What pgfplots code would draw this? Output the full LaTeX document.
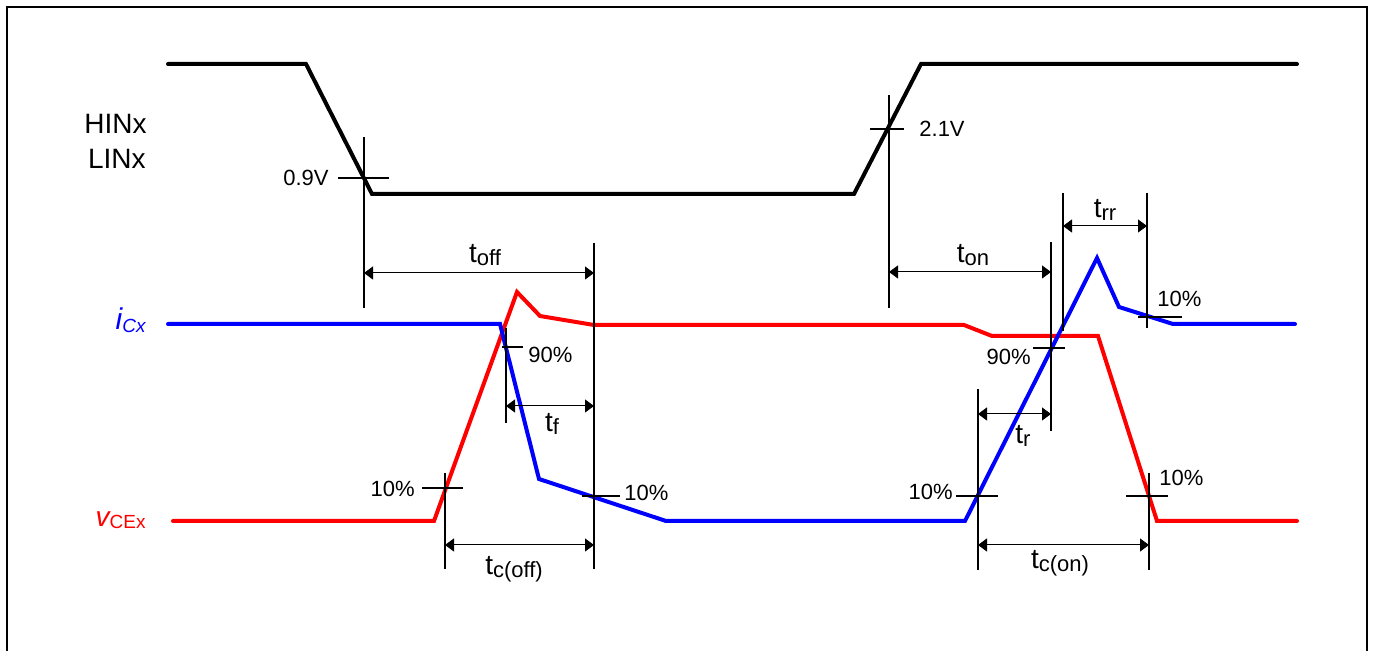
\documentclass[border=0pt]{standalone}
\usepackage{pgfplots}
\pgfplotsset{compat=1.18}
\usepackage{fontspec}
\setmainfont{Liberation Sans}
\usetikzlibrary{arrows.meta}
\newcommand{\ts}[1]{{\fontsize{14}{16}\selectfont t}{\fontsize{11}{13}\selectfont\raisebox{-1.5pt}{#1}}}
\tikzset{
 sig/.style={line width=2pt, line cap=round, line join=miter},
 mk/.style={black, line width=1pt},
 dim/.style={black, line width=0.5pt, {Triangle[length=4.5pt,width=6.5pt]}-{Triangle[length=4.5pt,width=6.5pt]}},
 lab/.style={inner sep=0pt, font=\fontsize{11}{13}\selectfont},
 tl/.style={inner sep=0pt, anchor=base},
}
\begin{document}
\begin{tikzpicture}
\begin{axis}[name=ax, scale only axis, width=686.5pt, height=325.5pt,
  xmin=0, xmax=1373, ymin=0, ymax=651, y dir=reverse, hide axis, clip=true]
% border
\addplot[black, line width=1pt] coordinates {(7,700) (7,7) (1367,7) (1367,700)};
% signals
\addplot[sig, black] coordinates {(168,64) (306,64) (372,194) (854,194) (921,64) (1297,64)};
\addplot[sig, red] coordinates {(173,521) (434,521) (517,292) (540,316) (594,325) (964,325) (992,336) (1098,336) (1157,521) (1297,521)};
\addplot[sig, blue] coordinates {(168,324) (500,324) (539,479) (666,521) (965,521) (1097,258) (1119,307) (1173,324) (1295,324)};
% markers
\addplot[mk] coordinates {(364,137) (364,308)};
\addplot[mk] coordinates {(338,178) (389,178)};
\addplot[mk] coordinates {(594,243) (594,569)};
\addplot[mk] coordinates {(506,328) (506,423)};
\addplot[mk] coordinates {(502,347) (523,347)};
\addplot[mk] coordinates {(582,496) (620,496)};
\addplot[mk] coordinates {(445,473) (445,569)};
\addplot[mk] coordinates {(422,488) (463,488)};
\addplot[mk] coordinates {(889,95) (889,308)};
\addplot[mk] coordinates {(870,129) (904,129)};
\addplot[mk] coordinates {(1051,242) (1051,431)};
\addplot[mk] coordinates {(1033,348) (1065,348)};
\addplot[mk] coordinates {(1063,193) (1063,331)};
\addplot[mk] coordinates {(1147,193) (1147,328)};
\addplot[mk] coordinates {(1138,317) (1182,317)};
\addplot[mk] coordinates {(978,389) (978,570)};
\addplot[mk] coordinates {(956,496) (998,496)};
\addplot[mk] coordinates {(1149,473) (1149,570)};
\addplot[mk] coordinates {(1126,496) (1168,496)};
% dimension arrows
\addplot[dim] coordinates {(364,273) (594,273)};
\addplot[dim] coordinates {(506,406) (594,406)};
\addplot[dim] coordinates {(445,545) (594,545)};
\addplot[dim] coordinates {(889,272) (1051,272)};
\addplot[dim] coordinates {(1063,226) (1147,226)};
\addplot[dim] coordinates {(978,414) (1051,414)};
\addplot[dim] coordinates {(978,545) (1149,545)};
% signal names
\node[anchor=east, inner sep=0pt, font=\fontsize{14}{16}\selectfont] at (axis cs:147,124) {HINx};
\node[anchor=east, inner sep=0pt, font=\fontsize{14}{16}\selectfont] at (axis cs:146,159) {LINx};
\node[anchor=base east, inner sep=0pt, text=blue] at (axis cs:146,330) {\fontsize{15}{17}\selectfont\itshape i\raisebox{-1.5pt}{\fontsize{9.5}{11}\selectfont Cx}};
\node[anchor=base east, inner sep=0pt, text=red] at (axis cs:146,527) {\fontsize{14}{16}\selectfont\itshape v\raisebox{-1pt}{\upshape\fontsize{9.5}{11}\selectfont CEx}};
% level labels
\node[lab, anchor=east] at (axis cs:329,178) {0.9V};
\node[lab, anchor=west] at (axis cs:919,129) {2.1V};
\node[lab, anchor=west] at (axis cs:528,355) {90\%};
\node[lab, anchor=west] at (axis cs:624,493) {10\%};
\node[lab, anchor=east] at (axis cs:415,489) {10\%};
\node[lab, anchor=east] at (axis cs:1031,357) {90\%};
\node[lab, anchor=west] at (axis cs:1157,299) {10\%};
\node[lab, anchor=east] at (axis cs:953,492) {10\%};
\node[lab, anchor=west] at (axis cs:1159,478) {10\%};
% time labels
\node[tl] at (axis cs:485,263) {\ts{off}};
\node[tl] at (axis cs:552,432) {\ts{f}};
\node[tl] at (axis cs:514,575) {\ts{c(off)}};
\node[tl] at (axis cs:973,263) {\ts{on}};
\node[tl] at (axis cs:1105,218) {\ts{rr}};
\node[tl] at (axis cs:1023,444) {\ts{r}};
\node[tl] at (axis cs:1060,569) {\ts{c(on)}};
\end{axis}
\pgfresetboundingbox
\path (ax.south west) rectangle (ax.north east);
\end{tikzpicture}
\end{document}
